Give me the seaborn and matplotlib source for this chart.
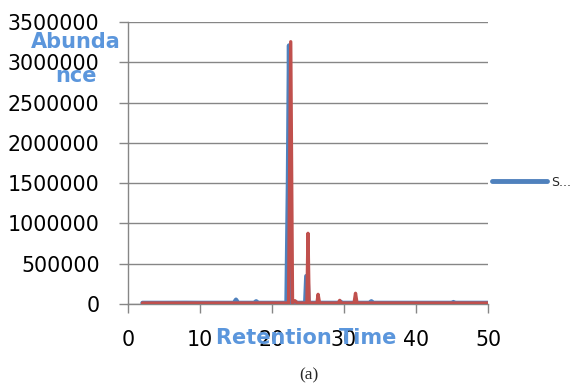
import numpy as np
import pandas as pd
import matplotlib
matplotlib.use("Agg")
import matplotlib.pyplot as plt
import seaborn as sns

# chromatogram (retention time, abundance)
blue_time = [2.0, 5.0, 8.0, 10.0, 14.7, 15.0, 15.3, 17.5, 17.8, 18.1, 22.0,
             22.2, 22.35, 22.5, 22.7, 23.3, 23.6, 24.6, 24.75, 24.95, 25.1,
             29.3, 29.5, 29.7, 33.5, 33.8, 34.1, 45.0, 45.2, 45.4, 50.0]
blue_abund = [15000, 15000, 16000, 15000, 15000, 55000, 15000, 15000, 35000,
              15000, 15000, 1500000, 3210000, 1200000, 15000, 20000, 15000,
              15000, 347000, 340000, 15000, 15000, 30000, 15000, 15000, 35000,
              15000, 15000, 25000, 15000, 15000]

red_time = [2.0, 8.0, 15.0, 22.3, 22.6, 22.85, 23.2, 23.5, 24.85, 25.0, 25.15,
            26.25, 26.4, 26.6, 29.2, 29.4, 29.6, 31.4, 31.6, 31.8, 40.0, 50.0]
red_abund = [12000, 12000, 12000, 12000, 3255000, 12000, 40000, 12000, 12000,
             877000, 12000, 12000, 120000, 12000, 12000, 45000, 12000, 12000,
             133000, 12000, 12000, 12000]

y_ticks = [0, 500000, 1000000, 1500000, 2000000, 2500000, 3000000, 3500000]
x_ticks = [0, 10, 20, 30, 40, 50]

BLUE = "#4F81BD"
RED = "#C0504D"
LABEL_BLUE = "#5B96DC"
GRAY = "#868686"

sns.set_theme(style="white")
plt.rcParams["font.family"] = ["DejaVu Sans"]

fig = plt.figure(figsize=(5.72, 3.87), dpi=100)
ax = fig.add_axes([128 / 572, 1 - 304 / 387, 360 / 572, 282 / 387])

blue_df = pd.DataFrame({"time": blue_time, "abund": blue_abund})
red_df = pd.DataFrame({"time": red_time, "abund": red_abund})

sns.lineplot(data=blue_df, x="time", y="abund", ax=ax, color=BLUE, lw=3.0,
             estimator=None, sort=False, zorder=3)
sns.lineplot(data=red_df, x="time", y="abund", ax=ax, color=RED, lw=2.4,
             estimator=None, sort=False, zorder=4)

ax.set_xlim(0, 50)
ax.set_ylim(0, 3500000)
ax.set_xticks(x_ticks)
ax.set_xticklabels([str(v) for v in x_ticks])
ax.set_yticks(y_ticks)
ax.set_yticklabels([str(v) for v in y_ticks])

ax.grid(axis="y", color=GRAY, lw=1)
ax.grid(axis="x", visible=False)
for s in ["top", "right"]:
    ax.spines[s].set_visible(False)
for s in ["left", "bottom"]:
    ax.spines[s].set_color(GRAY)
    ax.spines[s].set_linewidth(1)

ax.tick_params(axis="both", which="major", direction="out", length=6.5,
               width=1, color=GRAY, labelsize=14.8, labelcolor="black",
               left=True, bottom=True)
ax.tick_params(axis="y", pad=14)
ax.tick_params(axis="x", pad=12)

ax.set_ylabel("Abunda\nnce", rotation=0, fontsize=15, fontweight="bold",
              color=LABEL_BLUE, ha="center", va="center", linespacing=1.85)
ax.yaxis.set_label_coords(-0.144, 0.868)
ax.set_xlabel("Retention Time", fontsize=15, fontweight="bold",
              color=LABEL_BLUE, va="center")
ax.xaxis.set_label_coords(0.496, -0.122)

handle = plt.Line2D([], [], color=BLUE, lw=3.5, solid_capstyle="round")
fig.legend(handles=[handle], labels=["S..."], loc="center left",
           bbox_to_anchor=(492 / 572, 1 - 182 / 387), frameon=False,
           fontsize=9, handlelength=4.4, handletextpad=0.35, borderpad=0,
           borderaxespad=0)

fig.text(309 / 572, 1 - 375 / 387, "(a)", ha="center", va="center",
         fontsize=12.5, family=["Liberation Serif", "DejaVu Serif"])

fig.savefig("out.png", dpi=100)
